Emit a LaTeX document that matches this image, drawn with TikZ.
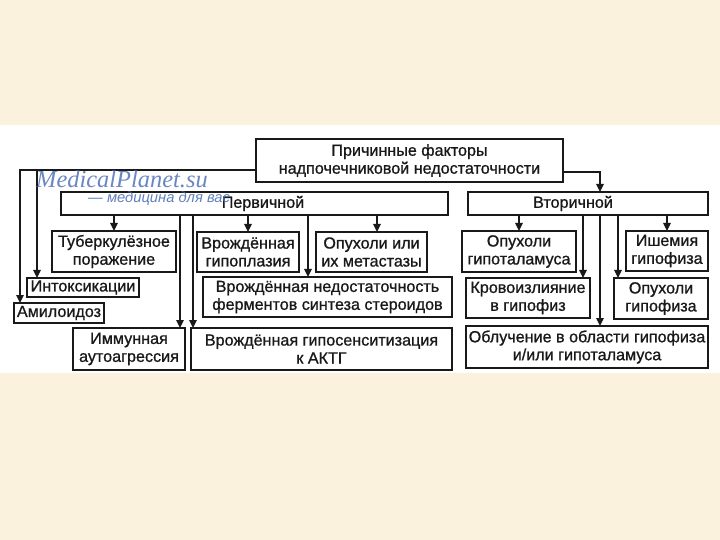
\documentclass[tikz,border=0pt]{standalone}
\usepackage{fontspec}
\setmainfont{Liberation Sans}
\newfontfamily\heavy{Liberation Sans}[FakeBold=0.9]
\newfontfamily\wmserif{Liberation Serif}
\usetikzlibrary{arrows.meta}
\definecolor{bg}{RGB}{251,242,222}
\definecolor{wm}{RGB}{70,105,180}
\definecolor{ink}{RGB}{25,25,25}
\begin{document}
\begin{tikzpicture}[x=1bp,y=-1bp,
  box/.style={draw=ink, line width=1.8bp, inner sep=0pt, outer sep=0pt, align=center, text=ink,
    font=\heavy\fontsize{16.2}{18}\selectfont},
  lbl/.style={inner sep=0pt, text=ink, font=\heavy\fontsize{16.2}{18}\selectfont},
  arr/.style={draw=ink, line width=1.4bp, -{Triangle[length=8bp,width=7.5bp]}}]
\fill[bg] (0,0) rectangle (720,540);
\useasboundingbox (0,0) rectangle (720,540);
\fill[white] (0,125) rectangle (720,373);

% boxes
\node[box, minimum width=307bp, minimum height=43bp] (top) at (409.5,160.5) {Причинные факторы\\надпочечниковой недостаточности};
\node[box, minimum width=387bp, minimum height=23bp] (prim) at (254.5,203.5) {};
\node[lbl] (primt) at (263,203.5) {Первичной};
\node[box, minimum width=240bp, minimum height=23bp] (sec) at (588,203.5) {};
\node[lbl] (sect) at (573,203.5) {Вторичной};

\node[box, minimum width=124bp, minimum height=41bp] (tub) at (114,251.5) {Туберкулёзное\\поражение};
\node[box, minimum width=102bp, minimum height=40bp] (hypo) at (248,252) {Врождённая\\гипоплазия};
\node[box, minimum width=111bp, minimum height=40bp] (tumors) at (371.5,252) {Опухоли или\\их метастазы};
\node[box, minimum width=249bp, minimum height=40bp] (nedost) at (327.5,297) {Врождённая недостаточность\\ферментов синтеза стероидов};
\node[box, minimum width=112bp, minimum height=19bp] (intox) at (83,287.5) {Интоксикации};
\node[box, minimum width=90bp, minimum height=20bp] (amyl) at (59,313) {Амилоидоз};
\node[box, minimum width=112bp, minimum height=42bp] (immun) at (129,349) {Иммунная\\аутоагрессия};
\node[box, minimum width=261bp, minimum height=42bp] (hyposens) at (321.5,349) {Врождённая гипосенситизация\\к АКТГ};

\node[box, minimum width=114bp, minimum height=41bp] (optg) at (519,251.5) {Опухоли\\гипоталамуса};
\node[box, minimum width=82bp, minimum height=40bp] (isch) at (667,251) {Ишемия\\гипофиза};
\node[box, minimum width=124bp, minimum height=40bp] (krovo) at (528,298) {Кровоизлияние\\в гипофиз};
\node[box, minimum width=94bp, minimum height=41bp] (ophyp) at (661,298.5) {Опухоли\\гипофиза};
\node[box, minimum width=242bp, minimum height=42bp] (irrad) at (587,347) {Облучение в области гипофиза\\и/или гипоталамуса};

% junctions and columns
\coordinate (jL) at (20,170);
\coordinate (jI) at (37,170);
\coordinate (jR) at (600,172);
\coordinate (cA) at (180,0);
\coordinate (cB) at (193,0);
\coordinate (cC) at (308,0);
\coordinate (cD) at (377,0);
\coordinate (cE) at (583,0);
\coordinate (cF) at (618,0);

% connectors
\draw[arr] (top.west |- jL) -- (jL) -- (jL |- amyl.north);
\draw[arr] (jI) -- (jI |- intox.north);
\draw[arr] (top.east |- jR) -- (jR) -- (jR |- sec.north);
\draw[arr] (prim.south -| tub.north) -- (tub.north);
\draw[arr] (prim.south -| hypo.north) -- (hypo.north);
\draw[arr] (prim.south -| cD) -- (tumors.north -| cD);
\draw[arr] (prim.south -| cC) -- (nedost.north -| cC);
\draw[arr] (prim.south -| cA) -- (immun.north -| cA);
\draw[arr] (prim.south -| cB) -- (hyposens.north -| cB);
\draw[arr] (sec.south -| optg.north) -- (optg.north);
\draw[arr] (sec.south -| isch.north) -- (isch.north);
\draw[arr] (sec.south -| cE) -- (krovo.north -| cE);
\draw[arr] (sec.south -| jR) -- (irrad.north -| jR);
\draw[arr] (sec.south -| cF) -- (ophyp.north -| cF);

% watermark
\node[anchor=base west, inner sep=0pt, text=wm, opacity=0.8, font=\wmserif\itshape\fontsize{24.5}{25}\selectfont] (wm1) at (36,188) {MedicalPlanet.su};
\node[anchor=base west, inner sep=0pt, text=wm, opacity=0.85, font=\itshape\fontsize{14.8}{15}\selectfont] (wm2) at (88,203) {— медицина для вас};
\end{tikzpicture}
\end{document}
